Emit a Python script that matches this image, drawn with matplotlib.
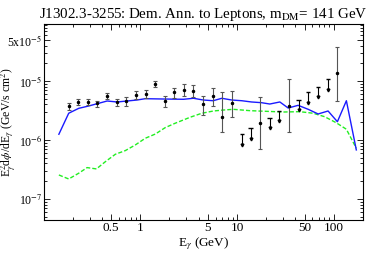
import numpy as np
import matplotlib
matplotlib.use("Agg")
from matplotlib import pyplot as plt
from matplotlib.ticker import FixedLocator, NullFormatter

plt.rcParams['font.family'] = ['Liberation Serif', 'DejaVu Serif']
plt.rcParams['mathtext.fontset'] = 'stix'

# data points (GeV, GeV/s cm^2)
pt_E = [0.182, 0.228, 0.289, 0.358, 0.454, 0.576, 0.717, 0.903, 1.145, 1.43,
        1.78, 2.24, 2.80, 3.54, 4.43, 5.61, 7.05, 8.88, 17.4, 34.6, 109]
pt_F = [3.77e-6, 4.46e-6, 4.46e-6, 4.19e-6, 5.64e-6, 4.46e-6, 4.58e-6, 5.79e-6, 6.03e-6, 8.89e-6,
        4.63e-6, 6.43e-6, 7.04e-6, 6.85e-6, 4.07e-6, 5.57e-6, 2.48e-6, 4.19e-6, 1.96e-6, 3.81e-6, 1.35e-5]
pt_lo = [3.23e-6, 3.92e-6, 3.92e-6, 3.58e-6, 5.01e-6, 3.81e-6, 3.81e-6, 4.95e-6, 5.09e-6, 7.82e-6,
         3.58e-6, 5.09e-6, 5.64e-6, 5.42e-6, 2.65e-6, 3.70e-6, 1.35e-6, 2.48e-6, 6.95e-7, 1.35e-6, 4.63e-6]
pt_hi = [4.29e-6, 4.95e-6, 4.90e-6, 4.63e-6, 6.34e-6, 5.01e-6, 5.29e-6, 6.77e-6, 7.04e-6, 1.01e-5,
         5.57e-6, 7.70e-6, 8.89e-6, 8.56e-6, 5.57e-6, 7.70e-6, 6.59e-6, 6.85e-6, 5.42e-6, 1.07e-5, 3.72e-5]

# upper limits
ul_E = [11.2, 13.8, 21.7, 27.3, 43.3, 54.3, 68.9, 87.3]
ul_F = [1.25e-6, 1.58e-6, 2.39e-6, 3.10e-6, 4.76e-6, 6.43e-6, 8.0e-6, 1.07e-5]

# total model (blue)
tot_E = [0.144, 0.182, 0.231, 0.293, 0.372, 0.454, 0.576, 0.729, 0.925, 1.126, 1.74, 2.80, 3.54,
         4.49, 5.66, 6.96, 8.83, 11.2, 14.1, 17.9, 21.8, 27.7, 33.8, 42.8, 54.4, 68.9, 87.3, 109, 135, 171]
tot_F = [1.25e-6, 2.84e-6, 3.44e-6, 3.77e-6, 4.19e-6, 4.58e-6, 4.41e-6, 4.58e-6, 4.76e-6, 5.01e-6, 4.95e-6,
         4.90e-6, 5.09e-6, 4.76e-6, 4.63e-6, 5.09e-6, 4.76e-6, 4.63e-6, 4.41e-6, 4.29e-6, 4.07e-6, 4.41e-6,
         3.48e-6, 3.87e-6, 3.31e-6, 2.76e-6, 3.10e-6, 2.04e-6, 4.63e-6, 6.78e-7]

# DM component (green dashed)
dm_E = [0.144, 0.182, 0.231, 0.282, 0.352, 0.436, 0.552, 0.700, 0.888, 1.127, 1.43, 1.81, 2.29,
        3.28, 4.33, 5.70, 7.23, 9.15, 13.6, 20.2, 30.1, 44.6, 61.1, 80.5, 106, 135, 171]
dm_F = [2.55e-7, 2.18e-7, 2.73e-7, 3.40e-7, 3.23e-7, 4.29e-7, 5.72e-7, 6.60e-7, 8.23e-7, 1.07e-6, 1.26e-6,
        1.62e-6, 1.92e-6, 2.43e-6, 2.84e-6, 3.10e-6, 3.22e-6, 3.31e-6, 3.14e-6, 3.06e-6, 2.98e-6, 3.02e-6,
        2.84e-6, 2.48e-6, 1.96e-6, 1.52e-6, 7.23e-7]

fig = plt.figure(figsize=(3.82, 2.54), dpi=100)
ax = fig.add_axes([0.114, 0.134, 0.836, 0.773])

ax.plot(dm_E, dm_F, color='#22ee22', lw=1.0, ls=(0, (3, 1.5)))
ax.plot(tot_E, tot_F, color='#1a1aff', lw=1.0)

F = np.array(pt_F)
yerr = [F - np.array(pt_lo), np.array(pt_hi) - F]
ax.errorbar(pt_E, pt_F, yerr=yerr, fmt='o', ms=1.5, color='black', ecolor='#555555',
            elinewidth=0.8, capsize=1.5, capthick=0.8)

ul = np.array(ul_F)
ax.vlines(ul_E, ul / 1.5, ul, color='black', lw=0.8)
ax.errorbar(ul_E, ul, xerr=[np.array(ul_E) * 0.05, np.array(ul_E) * 0.05], fmt='none',
            ecolor='black', elinewidth=1.0)
ax.plot(ul_E, ul / 1.5, 'v', ms=2, color='black')

ax.set_xscale('log')
ax.set_yscale('log')
ax.set_xlim(0.1, 200)
ax.set_ylim(4.4e-8, 9.4e-5)

ax.xaxis.set_major_locator(FixedLocator([0.5, 1, 5, 10, 50, 100]))
ax.set_xticklabels(['0.5', '1', '5', '10', '50', '100'])
ax.xaxis.set_minor_locator(FixedLocator([0.2, 0.3, 0.4, 0.6, 0.7, 0.8, 0.9, 2, 3, 4, 6, 7, 8, 9,
                                         20, 30, 40, 60, 70, 80, 90, 200]))
ax.xaxis.set_minor_formatter(NullFormatter())

ax.yaxis.set_major_locator(FixedLocator([1e-7, 1e-6, 1e-5, 5e-5]))
ax.set_yticklabels(['10$^{-7}$', '10$^{-6}$', '10$^{-5}$', '5x10$^{-5}$'])
ymin = [k * 10.0 ** e for e in (-8, -7, -6, -5) for k in range(2, 10)]
ax.yaxis.set_minor_locator(FixedLocator(ymin))
ax.yaxis.set_minor_formatter(NullFormatter())

ax.tick_params(which='both', direction='in', top=True, right=True, labelsize=9.5, width=0.6, pad=1.5)
ax.tick_params(axis='y', labelsize=8.5, pad=1)
ax.tick_params(which='major', length=4)
ax.tick_params(which='minor', length=2)
for s in ax.spines.values():
    s.set_linewidth(0.8)

ax.set_xlabel(r'E$_\gamma$ (GeV)', fontsize=9.5, labelpad=1)
ax.set_ylabel(r'E$_\gamma^2$d$\phi$/dE$_\gamma$ (GeV/s cm$^2$)', fontsize=8.5)
ax.yaxis.set_label_coords(-0.081, 0.5)
ax.set_title(r'J1302.3-3255: Dem. Ann. to Leptons, m$_{\rm DM}$= 141 GeV', fontsize=10.8, pad=4)

fig.savefig('out.png', dpi=100)
